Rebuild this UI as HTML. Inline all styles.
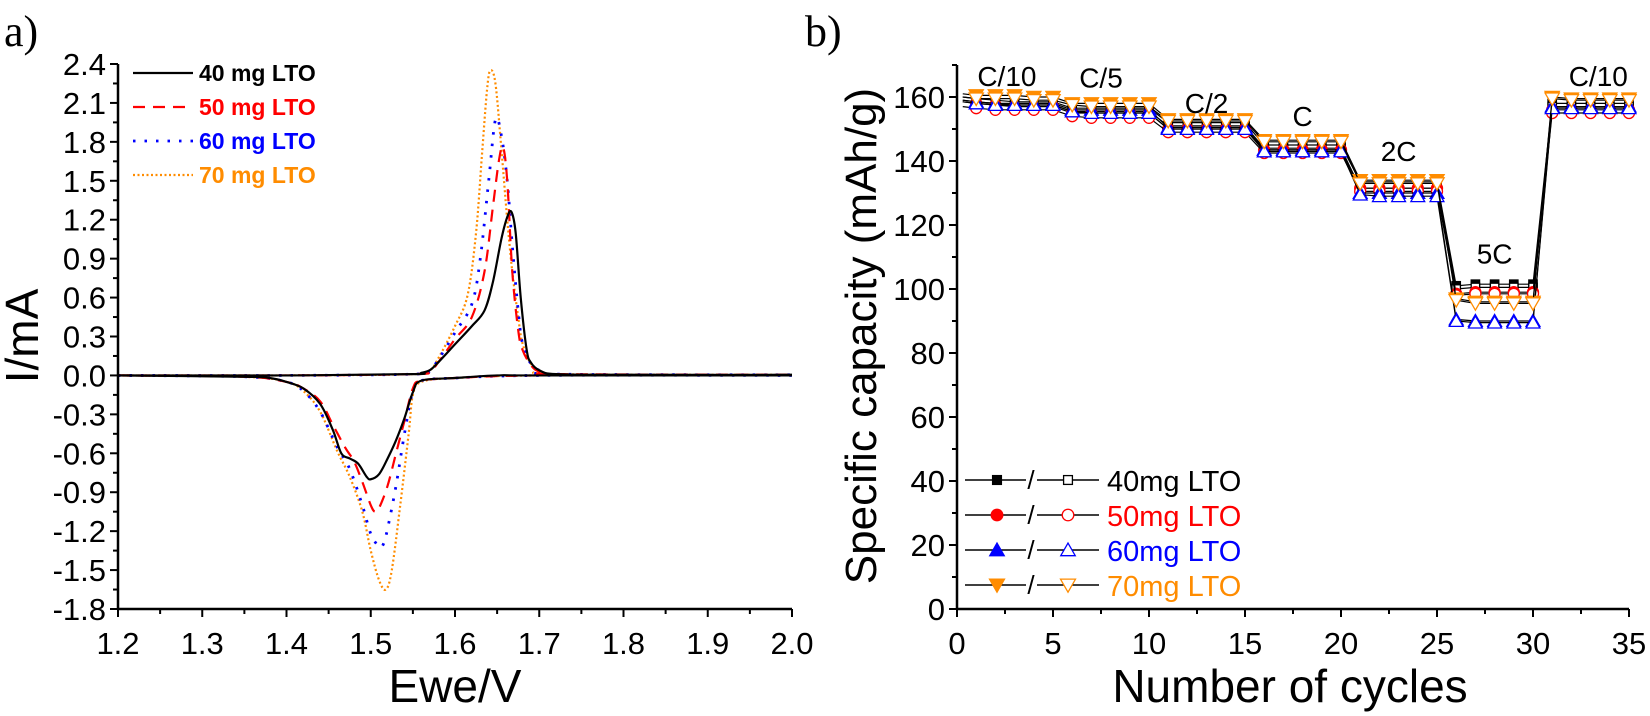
<!DOCTYPE html>
<html><head><meta charset="utf-8"><style>
body{margin:0;background:#fff;width:1650px;height:716px;overflow:hidden}
svg{display:block;font-family:"Liberation Sans",Arial,sans-serif}
</style></head><body>
<svg id="chart" width="1650" height="716"></svg>
<script>
// ---------- Panel a data (CV) ----------
const cvE40up=[1.20,1.40,1.55,1.56,1.57,1.58,1.60,1.62,1.635,1.645,1.655,1.662,1.667,1.672,1.678,1.685,1.69,1.70,1.72,1.80,2.00];
const cvI40up=[0,0,0.01,0.02,0.04,0.1,0.24,0.38,0.5,0.72,1.05,1.22,1.26,1.1,0.6,0.2,0.1,0.04,0.01,0.005,0.005];
const cvE40dn=[1.20,1.35,1.38,1.40,1.42,1.44,1.455,1.465,1.475,1.485,1.495,1.50,1.51,1.52,1.53,1.54,1.55,1.56,1.60,1.65,1.70,2.00];
const cvI40dn=[0,-0.01,-0.02,-0.05,-0.1,-0.22,-0.42,-0.6,-0.64,-0.68,-0.78,-0.8,-0.76,-0.64,-0.5,-0.33,-0.13,-0.04,-0.02,0,0,0];
const cvE50up=[1.20,1.40,1.55,1.57,1.58,1.60,1.62,1.635,1.645,1.652,1.657,1.662,1.668,1.675,1.68,1.69,1.70,1.72,2.00];
const cvI50up=[0,0,0.01,0.03,0.1,0.28,0.45,0.8,1.3,1.65,1.76,1.5,0.8,0.35,0.2,0.08,0.03,0.01,0.005];
const cvE50dn=[1.20,1.35,1.40,1.42,1.44,1.455,1.47,1.48,1.49,1.50,1.505,1.51,1.52,1.53,1.54,1.55,1.56,1.60,1.70,2.00];
const cvI50dn=[0,-0.01,-0.05,-0.1,-0.2,-0.38,-0.56,-0.66,-0.82,-1.0,-1.05,-1.02,-0.85,-0.6,-0.35,-0.1,-0.04,-0.02,0,0];
const cvE60up=[1.20,1.40,1.55,1.57,1.58,1.60,1.62,1.63,1.64,1.648,1.655,1.662,1.668,1.675,1.68,1.69,1.70,1.72,2.00];
const cvI60up=[0,0,0.01,0.04,0.12,0.33,0.55,0.9,1.5,1.97,1.85,1.5,1.0,0.5,0.25,0.09,0.04,0.01,0.005];
const cvE60dn=[1.20,1.35,1.40,1.42,1.44,1.46,1.475,1.49,1.50,1.51,1.515,1.52,1.53,1.54,1.55,1.56,1.60,1.70,2.00];
const cvI60dn=[0,-0.01,-0.05,-0.12,-0.28,-0.55,-0.72,-1.0,-1.22,-1.32,-1.3,-1.18,-0.85,-0.45,-0.12,-0.04,-0.02,0,0];
const cvE70up=[1.20,1.40,1.55,1.57,1.58,1.60,1.615,1.625,1.632,1.638,1.642,1.648,1.655,1.662,1.668,1.675,1.68,1.69,1.70,1.72,2.00];
const cvI70up=[0,0,0.01,0.04,0.13,0.38,0.62,1.1,1.7,2.2,2.35,2.25,1.75,1.2,0.8,0.45,0.25,0.09,0.04,0.01,0.005];
const cvE70dn=[1.20,1.35,1.40,1.42,1.44,1.46,1.475,1.49,1.50,1.51,1.518,1.525,1.535,1.545,1.55,1.56,1.60,1.70,2.00];
const cvI70dn=[0,-0.01,-0.05,-0.12,-0.28,-0.58,-0.78,-1.05,-1.35,-1.58,-1.65,-1.5,-1.0,-0.45,-0.15,-0.05,-0.02,0,0];
const cvYTicks=[-1.8,-1.5,-1.2,-0.9,-0.6,-0.3,0.0,0.3,0.6,0.9,1.2,1.5,1.8,2.1,2.4];
const cvXTicks=[1.2,1.3,1.4,1.5,1.6,1.7,1.8,1.9,2.0];

// ---------- Panel b data (rate capability) ----------
const cycles=[1,2,3,4,5,6,7,8,9,10,11,12,13,14,15,16,17,18,19,20,21,22,23,24,25,26,27,28,29,30,31,32,33,34,35];
const cap40ch=[159.5,159,158.5,158.5,158.5,156.5,156.5,156.5,156.5,156.5,152,152,152,152,152,145,145,145,145,145,133.5,133.5,133.5,133.5,133.5,101,101.5,101.5,101.5,101.5,158,158,158,158,158];
const cap40dis=[158.5,158,157.5,157.5,157.5,155.5,155.5,155.5,155.5,155.5,151,151,151,151,151,144,144,144,144,144,131.5,131.5,131.5,131.5,131.5,100,100.5,100.5,100.5,100.5,157,157,157,157,157];
const cap50ch=[158,157.5,157,157,157,155,155,155,155,155,150,150,150,150,150,143.5,143.5,143.5,143.5,143.5,131.5,131.5,131.5,131.5,131.5,98.5,99,99,99,99,156,156,156,156,156];
const cap50dis=[156.5,156,156,156,156,154,153.5,153.5,153.5,153.5,149,149,149,149,149,142.5,142.5,142.5,142.5,142.5,130.5,130.5,130.5,130.5,130.5,98,98.5,98.5,98.5,98.5,155,155,155,155,155];
const cap60ch=[158.5,158,158,158,158,156,156,156,156,156,150.5,150.5,150.5,150.5,150.5,143.5,143.5,143.5,143.5,143.5,130,130,130,130,130,90.5,90,90,90,90,157,157,157,157,157];
const cap60dis=[158,157.5,157.5,157.5,157.5,155.5,155,155,155,155,150,150,150,150,150,143,143,143,143,143,129.5,129,129,129,129,90,89.5,89.5,89.5,89.5,156.5,156.5,156.5,156.5,156.5];
const cap70ch=[160.5,160.5,160.5,160,160,158,158,158,158,158,153,153,153,153,153,146.5,146.5,146.5,146.5,146.5,134,134,134,134,134,97,96,96,96,96,160,159.5,159.5,159.5,159.5];
const cap70dis=[159.5,159.5,159.5,159,159,157.5,157,157,157,157,152.5,152.5,152.5,152.5,152.5,146,146,146,146,146,133,133,133,133,133,96.5,95.5,95.5,95.5,95.5,159.5,159,159,159,159];
const capYTicks=[0,20,40,60,80,100,120,140,160];
const capXTicks=[0,5,10,15,20,25,30,35];
const rateLabels=["C/10","C/5","C/2","C","2C","5C","C/10"];
const rateX=[2.6,7.5,13,18,23,28,33.4];
const rateY=[163.5,163,155,151,140,108,163.5];

const NS="http://www.w3.org/2000/svg";
const svg=document.getElementById('chart');
function el(tag,attrs,parent,text){const e=document.createElementNS(NS,tag);for(const k in attrs)e.setAttribute(k,attrs[k]);if(text!==undefined)e.textContent=text;(parent||svg).appendChild(e);return e;}

// ===== Panel a =====
const A={x0:118,x1:792,y0:609,y1:64,xmin:1.2,xmax:2.0,ymin:-1.8,ymax:2.4};
const ax=v=>A.x0+(v-A.xmin)/(A.xmax-A.xmin)*(A.x1-A.x0);
const ay=v=>A.y0-(v-A.ymin)/(A.ymax-A.ymin)*(A.y0-A.y1);
const ga=el('g',{});


const la=el('text',{x:4,y:46,'font-family':'"Liberation Serif",serif','font-size':44},ga,'a)');



function smoothPath(xs,ys,fx,fy){
  const p=xs.map((x,i)=>[fx(x),fy(ys[i])]);
  let d=`M${p[0][0]},${p[0][1]}`;
  for(let i=0;i<p.length-1;i++){
    const p0=p[i-1]||p[i],p1=p[i],p2=p[i+1],p3=p[i+2]||p2;
    const c1=[p1[0]+(p2[0]-p0[0])/6,p1[1]+(p2[1]-p0[1])/6];
    const c2=[p2[0]-(p3[0]-p1[0])/6,p2[1]-(p3[1]-p1[1])/6];
    d+=` C${c1[0]},${c1[1]} ${c2[0]},${c2[1]} ${p2[0]},${p2[1]}`;
  }
  return d;
}
const cvSeries=[
 {n:'40',c:'#000',dash:'',w:2.2,up:[cvE40up,cvI40up],dn:[cvE40dn,cvI40dn]},
 {n:'50',c:'#f00',dash:'12 8',w:2.2,up:[cvE50up,cvI50up],dn:[cvE50dn,cvI50dn]},
 {n:'60',c:'#00f',dash:'2.5 9',w:2.8,up:[cvE60up,cvI60up],dn:[cvE60dn,cvI60dn]},
 {n:'70',c:'#ff8c00',dash:'2 2.5',w:2.2,up:[cvE70up,cvI70up],dn:[cvE70dn,cvI70dn]}];
cvSeries.slice().reverse().forEach(s=>{
  ['up','dn'].forEach(k=>{
    const p=el('path',{d:smoothPath(s[k][0],s[k][1],ax,ay),fill:'none',stroke:s.c,'stroke-width':s.w,'stroke-dasharray':s.dash},ga);
    
    
  });
});
el('line',{x1:A.x0,y1:A.y0,x2:A.x1,y2:A.y0,stroke:'#000','stroke-width':2.5},ga);
el('line',{x1:A.x0,y1:A.y0,x2:A.x0,y2:A.y1,stroke:'#000','stroke-width':2.5},ga);
cvYTicks.forEach((v,i)=>{
  el('line',{x1:A.x0-8,x2:A.x0,y1:ay(v),y2:ay(v),stroke:'#000','stroke-width':2},ga);
  if(i<cvYTicks.length-1){const m=ay(v+0.15);el('line',{x1:A.x0-5,x2:A.x0,y1:m,y2:m,stroke:'#000','stroke-width':2},ga);}
  const t=el('text',{x:A.x0-12,y:ay(v)+11,'text-anchor':'end','font-size':31},ga,v.toFixed(1));
  
  
});
cvXTicks.forEach((v,i)=>{
  el('line',{x1:ax(v),x2:ax(v),y1:A.y0,y2:A.y0+8,stroke:'#000','stroke-width':2},ga);
  if(i<cvXTicks.length-1){const m=ax(v+0.05);el('line',{x1:m,x2:m,y1:A.y0,y2:A.y0+5,stroke:'#000','stroke-width':2},ga);}
  const t=el('text',{x:ax(v),y:A.y0+45,'text-anchor':'middle','font-size':31},ga,v.toFixed(1));
  
  
});
const xta=el('text',{x:455,y:702,'text-anchor':'middle','font-size':46},ga,'Ewe/V');


const yta=el('text',{x:0,y:0,'text-anchor':'middle','font-size':46,transform:'translate(38,336) rotate(-90)'},ga,'I/mA');


cvSeries.forEach((s,i)=>{
  const y=73+i*34;
  const g=el('g',{},ga);
  
  
  el('line',{x1:133,x2:193,y1:y,y2:y,stroke:s.c,'stroke-width':s.w,'stroke-dasharray':s.dash},g);
  el('text',{x:199,y:y+8,'font-size':23,'font-weight':'bold',fill:s.c},g,s.n+' mg LTO');
});

// ===== Panel b =====
const B={x0:957,x1:1629,y0:609,y1:65,xmin:0,xmax:35,ymin:0,ymax:170};
const bx=v=>B.x0+(v-B.xmin)/(B.xmax-B.xmin)*(B.x1-B.x0);
const by=v=>B.y0-(v-B.ymin)/(B.ymax-B.ymin)*(B.y0-B.y1);
const gb=el('g',{});


const lb=el('text',{x:805,y:46,'font-family':'"Liberation Serif",serif','font-size':44},gb,'b)');



function marker(g,type,x,y,c,filled,r){
  let e;const f=filled?c:'#fff';
  if(type==='sq')e=el('rect',{x:x-r,y:y-r,width:2*r,height:2*r,fill:f,stroke:c,'stroke-width':1.3},g);
  else if(type==='ci')e=el('circle',{cx:x,cy:y,r:r,fill:f,stroke:c,'stroke-width':1.3},g);
  else if(type==='up')e=el('polygon',{points:`${x},${y-r*1.1} ${x-r*1.15},${y+r*0.9} ${x+r*1.15},${y+r*0.9}`,fill:f,stroke:c,'stroke-width':1.3},g);
  else e=el('polygon',{points:`${x},${y+r*1.1} ${x-r*1.15},${y-r*0.9} ${x+r*1.15},${y-r*0.9}`,fill:f,stroke:c,'stroke-width':1.3},g);
  return e;
}
const capSeries=[
 {n:'40',c:'#000',m:'sq',ch:cap40ch,dis:cap40dis,r:4.2},
 {n:'50',c:'#f00',m:'ci',ch:cap50ch,dis:cap50dis,r:5.5},
 {n:'60',c:'#00f',m:'up',ch:cap60ch,dis:cap60dis,r:6},
 {n:'70',c:'#ff8c00',m:'dn',ch:cap70ch,dis:cap70dis,r:6.2}];
capSeries.forEach(s=>{
  ['ch','dis'].forEach(k=>{
    const g=el('g',{},gb);
    
    
    const pts=[[bx(0.3),by(s[k][0]+0.5)]].concat(cycles.map((c,i)=>[bx(c),by(s[k][i])]));
    el('polyline',{points:pts.map(p=>p.join(',')).join(' '),fill:'none',stroke:'#000','stroke-width':1.2},g);
    cycles.forEach((c,i)=>{
      const mk=marker(g,s.m,bx(c),by(s[k][i]),s.c,k==='ch',s.r);
      
      
    });
  });
});
el('line',{x1:B.x0,y1:B.y0,x2:B.x1,y2:B.y0,stroke:'#000','stroke-width':2.5},gb);
el('line',{x1:B.x0,y1:B.y0,x2:B.x0,y2:B.y1,stroke:'#000','stroke-width':2.5},gb);
capYTicks.forEach((v,i)=>{
  el('line',{x1:B.x0-8,x2:B.x0,y1:by(v),y2:by(v),stroke:'#000','stroke-width':2},gb);
  const m=by(v+10);el('line',{x1:B.x0-5,x2:B.x0,y1:m,y2:m,stroke:'#000','stroke-width':2},gb);
  const t=el('text',{x:B.x0-12,y:by(v)+11,'text-anchor':'end','font-size':31},gb,String(v));
  
  
});
capXTicks.forEach((v,i)=>{
  el('line',{x1:bx(v),x2:bx(v),y1:B.y0,y2:B.y0+8,stroke:'#000','stroke-width':2},gb);
  if(i<capXTicks.length-1){const m=bx(v+2.5);el('line',{x1:m,x2:m,y1:B.y0,y2:B.y0+5,stroke:'#000','stroke-width':2},gb);}
  const t=el('text',{x:bx(v),y:B.y0+45,'text-anchor':'middle','font-size':31},gb,String(v));
  
  
});
rateLabels.forEach((l,i)=>{
  const t=el('text',{x:bx(rateX[i]),y:by(rateY[i]),'text-anchor':'middle','font-size':28},gb,l);
  
  
});
const xtb=el('text',{x:1290,y:702,'text-anchor':'middle','font-size':46},gb,'Number of cycles');


const ytb=el('text',{x:0,y:0,'text-anchor':'middle','font-size':44,transform:'translate(876,336) rotate(-90)'},gb,'Specific capacity (mAh/g)');


capSeries.forEach((s,i)=>{
  const y=480+i*35;
  const g=el('g',{},gb);
  
  
  el('line',{x1:965,x2:1026,y1:y,y2:y,stroke:'#000','stroke-width':1.4},g);
  el('line',{x1:1037,x2:1099,y1:y,y2:y,stroke:'#000','stroke-width':1.4},g);
  el('text',{x:1031,y:y+9,'text-anchor':'middle','font-size':26},g,'/');
  marker(g,s.m,997,y,s.c,true,s.r*1.05);
  marker(g,s.m,1068,y,s.c,false,s.r*1.05);
  el('text',{x:1107,y:y+11,'font-size':29,fill:s.c},g,s.n+'mg LTO');
});
</script>
</body></html>
